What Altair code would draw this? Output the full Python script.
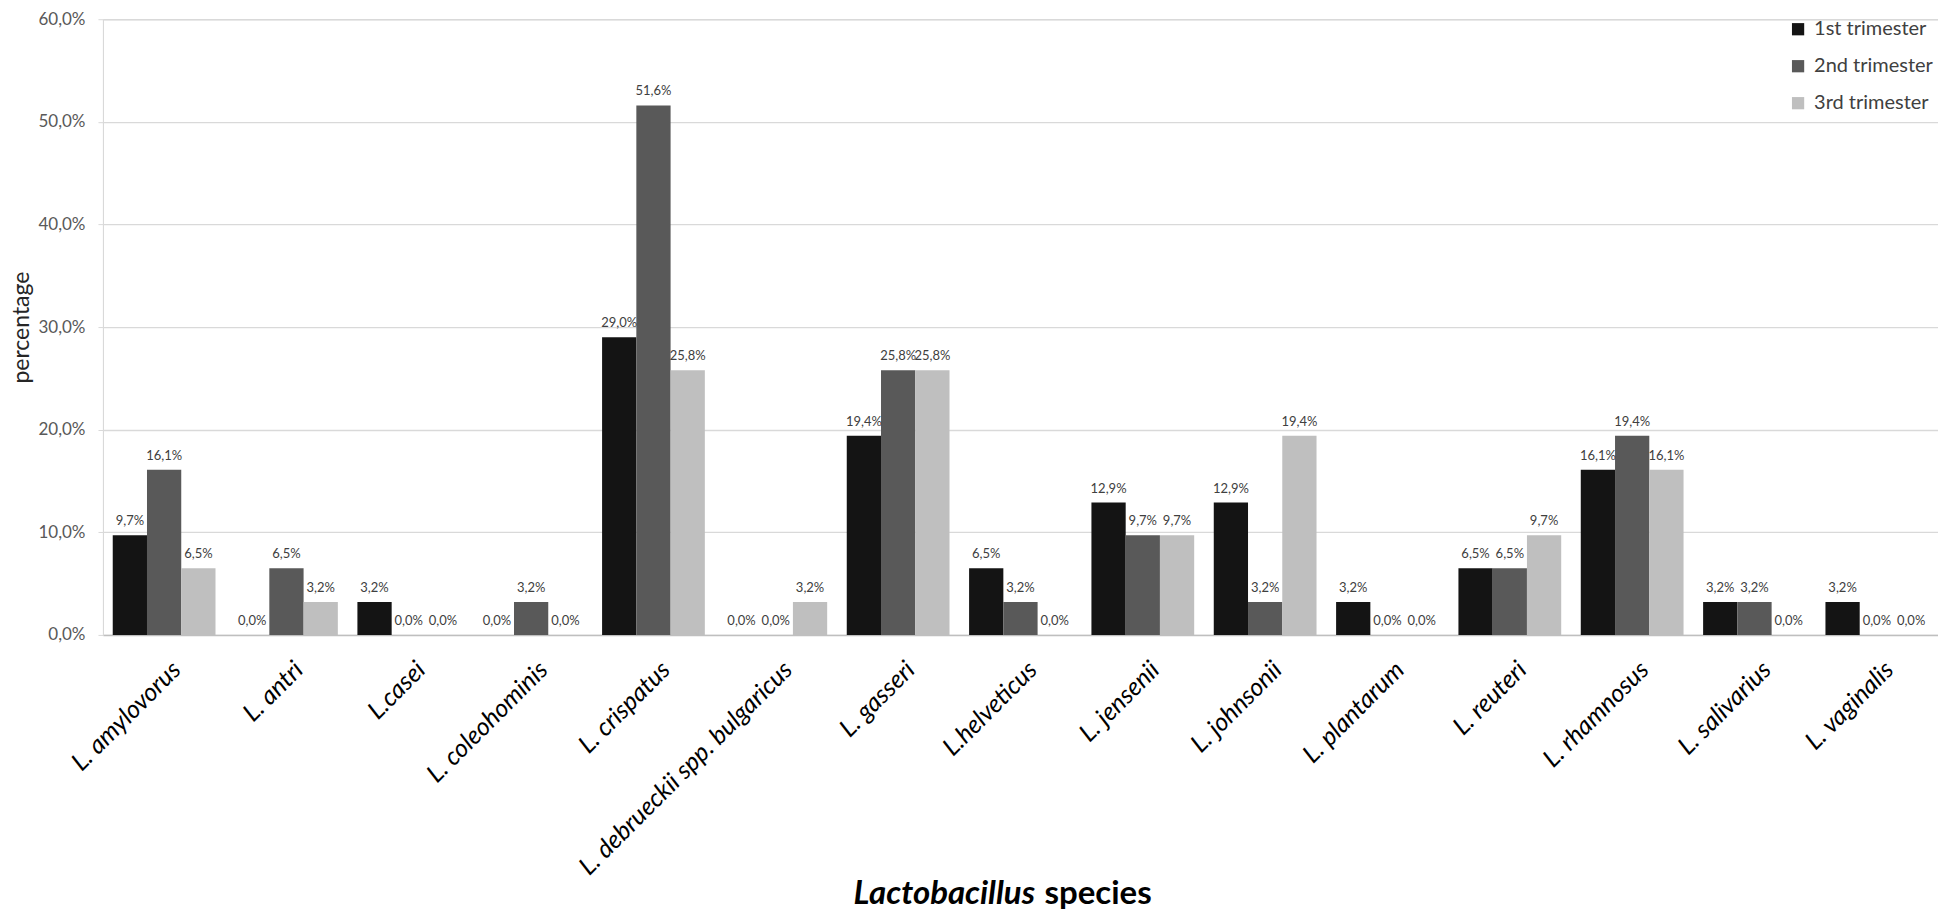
import altair as alt
import pandas as pd

species = ["L. amylovorus", "L. antri", "L.casei", "L. coleohominis", "L. crispatus",
           "L. debrueckii spp. bulgaricus", "L. gasseri", "L.helveticus", "L. jensenii",
           "L. johnsonii", "L. plantarum", "L. reuteri", "L. rhamnosus", "L. salivarius",
           "L. vaginalis"]
trimesters = ["1st trimester", "2nd trimester", "3rd trimester"]
first = [9.7, 0.0, 3.2, 0.0, 29.0, 0.0, 19.4, 6.5, 12.9, 12.9, 3.2, 6.5, 16.1, 3.2, 3.2]
second = [16.1, 6.5, 0.0, 3.2, 51.6, 0.0, 25.8, 3.2, 9.7, 3.2, 0.0, 6.5, 19.4, 3.2, 0.0]
third = [6.5, 3.2, 0.0, 0.0, 25.8, 3.2, 25.8, 0.0, 9.7, 19.4, 0.0, 9.7, 16.1, 0.0, 0.0]
colors = ["#141414", "#595959", "#bfbfbf"]
y_ticks = [0, 10, 20, 30, 40, 50, 60]
title_parts = ["Lactobacillus", "species"]
y_title = "percentage"

rows = []
for tri, vals in zip(trimesters, [first, second, third]):
    for sp, v in zip(species, vals):
        rows.append({"species": sp, "trimester": tri, "value": v})
df = pd.DataFrame(rows)

W, H = 1836, 616
FONT = "Lato"

x_enc = alt.X("species:N", sort=species,
              scale=alt.Scale(paddingInner=0.16, paddingOuter=0.08),
              axis=alt.Axis(title=None, labelAngle=-45, labelAlign="right", labelBaseline="top",
                            labelFontStyle="italic", labelFontSize=25, labelColor="#000000",
                            labelFont=FONT, labelPadding=22, labelOffset=4, ticks=False,
                            domainColor="#bfbfbf", domainWidth=1.5, labelLimit=500))
xo_enc = alt.XOffset("trimester:N", sort=trimesters, scale=alt.Scale(paddingInner=0, paddingOuter=0))
y_enc = alt.Y("value:Q", scale=alt.Scale(domain=[0, 60], nice=False),
              axis=alt.Axis(values=y_ticks, title=y_title, titleFontSize=23, titleFont=FONT,
                            titleFontWeight="normal", titleColor="#262626", titlePadding=4,
                            labelExpr="replace(format(datum.value, '.1f'), '.', ',') + '%'",
                            labelFontSize=17, labelFont=FONT, labelColor="#595959", labelPadding=13,
                            gridColor="#d9d9d9", gridWidth=1.3, domainColor="#d9d9d9",
                            tickColor="#d9d9d9", tickSize=5))

bars = alt.Chart(df).mark_bar().encode(
    x=x_enc, xOffset=xo_enc, y=y_enc,
    color=alt.Color("trimester:N", sort=trimesters,
                    scale=alt.Scale(domain=trimesters, range=colors),
                    legend=alt.Legend(orient="none", legendX=1686, legendY=0, title=None,
                                      symbolType="square", symbolSize=150, symbolStrokeWidth=0,
                                      labelFontSize=20, labelFont=FONT, labelColor="#404040",
                                      rowPadding=17, symbolOffset=0, labelOffset=6)),
)

labels = alt.Chart(df).transform_calculate(
    lab="replace(format(datum.value, '.1f'), '.', ',') + '%'"
).mark_text(baseline="bottom", dy=-7, fontSize=13, font=FONT, color="#404040").encode(
    x=alt.X("species:N", sort=species), xOffset=alt.XOffset("trimester:N", sort=trimesters),
    y=alt.Y("value:Q"), text="lab:N")

t1 = alt.Chart(pd.DataFrame({"t": [title_parts[0]]})).mark_text(
    align="left", baseline="alphabetic", fontSize=33, fontWeight="bold", fontStyle="italic",
    font=FONT, color="#000000").encode(x=alt.value(751), y=alt.value(885), text="t:N")
t2 = alt.Chart(pd.DataFrame({"t": [title_parts[1]]})).mark_text(
    align="left", baseline="alphabetic", fontSize=33, fontWeight="bold",
    font=FONT, color="#000000").encode(x=alt.value(942), y=alt.value(885), text="t:N")

chart = alt.layer(bars, labels, t1, t2).properties(
    width=W, height=H, padding={"left": 2, "top": 2, "right": 0, "bottom": 0}
).configure_view(stroke=None).configure(font=FONT)

chart.save("out.html", embed_options={"renderer": "svg", "actions": False})
